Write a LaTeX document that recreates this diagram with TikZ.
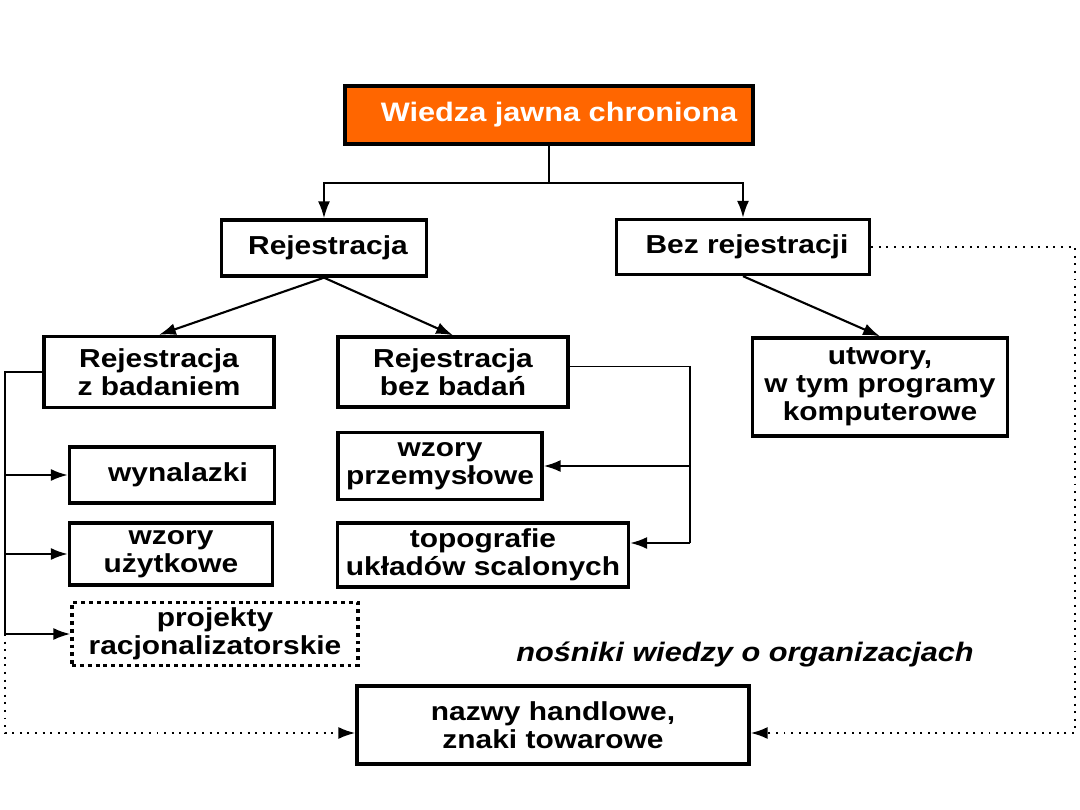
\documentclass[tikz,border=0pt]{standalone}
\usepackage{fontspec}
\setmainfont[FakeStretch=1.15]{Liberation Sans}
\usetikzlibrary{arrows.meta,positioning,calc}
\definecolor{titleorange}{HTML}{FF6600}
\tikzset{
  box/.style   = {draw=black, line width=2.4pt, align=center, inner sep=1pt,
                  font=\fontsize{18.5}{20}\selectfont\bfseries, fill=white},
  boxt/.style  = {box, fill=titleorange, text=white,
                  font=\fontsize{19}{21}\selectfont\bfseries},
  boxd/.style  = {box, dash pattern=on 2.8pt off 2.8pt},
  lab/.style   = {font=\fontsize{19}{21}\selectfont\bfseries\itshape},
  arr/.style   = {-{Latex[length=12pt,width=8.5pt]}, draw=black, line width=1.5pt},
  lin/.style   = {draw=black, line width=1.5pt},
  thinlin/.style = {draw=black, line width=0.7pt},
  darr/.style  = {-{Latex[length=12pt,width=8.5pt]}, draw=black, line width=1.5pt,
                  dash pattern=on 1.4pt off 4pt},
}

\begin{document}
\begin{tikzpicture}[x=0.25mm, y=-0.25mm]
  \useasboundingbox (0,0) rectangle (1080,810);
  % top
  \node[boxt, minimum width=102mm, minimum height=14.5mm] (wjc) at (549,115) {\hspace*{5mm}Wiedza jawna chroniona};
  \node[box, minimum width=51.25mm, minimum height=14mm] (rej) at (324,248) {\hspace*{2mm}Rejestracja};
  \node[box, minimum width=63.25mm, minimum height=13.75mm] (bez) at (743,247) {\hspace*{2mm}Bez rejestracji};
  % second level
  \node[box, minimum width=57.5mm, minimum height=17.75mm] (rzb) at (159,372) {Rejestracja\\z badaniem};
  \node[box, minimum width=57.5mm, minimum height=17.5mm] (rbb) at (453,372) {Rejestracja\\bez badań};
  \node[box, minimum width=63.75mm, minimum height=24.5mm] (utw) at (880,387) {utwory,\\w tym programy\\komputerowe};
  % leaves
  \node[box, minimum width=51.25mm, minimum height=14mm] (wyn) at (172,475) {\hspace*{3mm}wynalazki};
  \node[box, minimum width=50.75mm, minimum height=15.5mm] (wzu) at (171,554) {wzory\\użytkowe};
  \node[boxd, minimum width=71.5mm, minimum height=15.75mm] (proj) at (215,634) {projekty\\racjonalizatorskie};
  \node[box, minimum width=51mm, minimum height=16.75mm] (wzp) at (440,466) {wzory\\przemysłowe};
  \node[box, minimum width=72.75mm, minimum height=16mm] (topo) at (483,555) {topografie\\układów scalonych};
  \node[box, minimum width=98mm, minimum height=19.5mm] (nzw) at (553,725) {nazwy handlowe,\\znaki towarowe};
  \node[lab] (nos) at (745,654) {nośniki wiedzy o organizacjach};
  % helper columns
  \coordinate (lc) at (5,0);
  \coordinate (rc) at (690,0);
  \coordinate (fc) at (1075,0);
  % connectors
  \draw[lin] (wjc.south) -- ++(0,37) coordinate (split);
  \draw[arr] (split) -| (rej.north);
  \draw[arr] (split) -| (bez.north);
  \draw[arr] (rej.south) -- (rzb.north);
  \draw[arr] (rej.south) -- (rbb.north);
  \draw[arr] (bez.south) -- (utw.north);
  \draw[lin] (rzb.west) -| (proj -| lc);
  \draw[arr] (wyn -| lc) -- (wyn.west);
  \draw[arr] (wzu -| lc) -- (wzu.west);
  \draw[arr] (proj -| lc) -- (proj.west);
  \draw[thinlin] ([yshift=1.5mm]rbb.east) -- ([yshift=1.5mm]rbb.east -| rc);
  \draw[lin] ([yshift=1.5mm]rbb.east -| rc) -- ([yshift=3mm]topo.east -| rc);
  \draw[arr] (wzp -| rc) -- (wzp.east);
  \draw[arr] ([yshift=3mm]topo.east -| rc) -- ([yshift=3mm]topo.east);
  \draw[darr] (proj -| lc) -- ([yshift=-2mm]nzw -| lc) -- ([yshift=-2mm]nzw.west);
  \draw[darr] (bez.east) -- (bez -| fc) -- ([yshift=-2mm]nzw -| fc) -- ([yshift=-2mm]nzw.east);
\end{tikzpicture}
\end{document}
